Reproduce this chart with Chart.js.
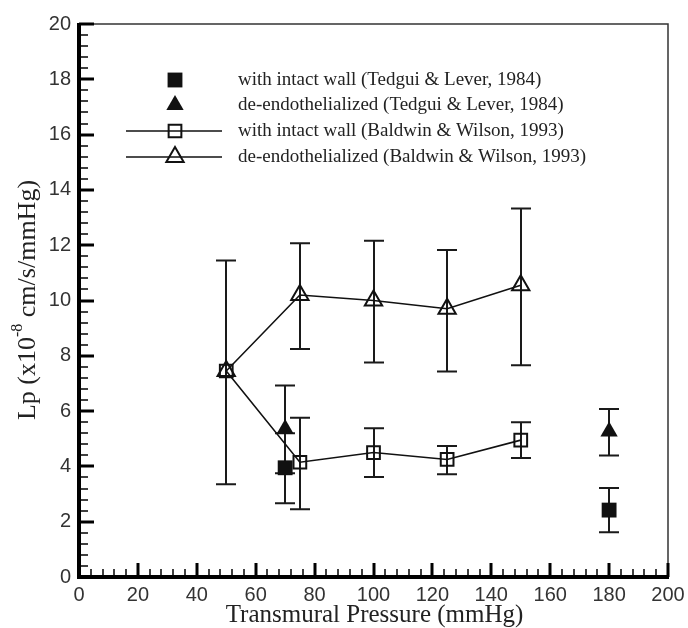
<!DOCTYPE html>
<html>
<head>
<meta charset="utf-8">
<script src="https://cdn.jsdelivr.net/npm/chart.js@4.4.1/dist/chart.umd.min.js"></script>
<style>
  html, body { margin: 0; padding: 0; background: #fff; }
  #wrap { width: 688px; height: 628px; }
</style>
</head>
<body>
<div id="wrap"><canvas id="myChart" width="688" height="628"></canvas></div>
<script>
// data
let pressureTL = [70, 180];
let intactTL = [3.95, 2.42];
let intactTLLow = [2.67, 1.62];
let intactTLHigh = [5.2, 3.22];
let deendoTL = [5.35, 5.26];
let deendoTLLow = [3.75, 4.39];
let deendoTLHigh = [6.93, 6.08];

let pressureBW = [50, 75, 100, 125, 150];
let intactBW = [7.45, 4.15, 4.5, 4.25, 4.95];
let intactBWLow = [null, 2.45, 3.62, 3.72, 4.3];
let intactBWHigh = [null, 5.76, 5.38, 4.74, 5.6];
let deendoBW = [7.45, 10.2, 10.0, 9.7, 10.55];
let deendoBWLow = [3.35, 8.25, 7.76, 7.43, 7.66];
let deendoBWHigh = [11.45, 12.07, 12.16, 11.83, 13.33];

let legendLabels = [
  'with intact wall (Tedgui & Lever, 1984)',
  'de-endothelialized (Tedgui & Lever, 1984)',
  'with intact wall (Baldwin & Wilson, 1993)',
  'de-endothelialized (Baldwin & Wilson, 1993)'
];
let xTicks = [0, 20, 40, 60, 80, 100, 120, 140, 160, 180, 200];
let yTicks = [0, 2, 4, 6, 8, 10, 12, 14, 16, 18, 20];

function points(xs, ys) {
  return xs.map((x, i) => ({ x: x, y: ys[i] }));
}

let ink = '#111';

let data = {
  datasets: [{
    label: legendLabels[0],
    data: points(pressureTL, intactTL),
    errLow: intactTLLow, errHigh: intactTLHigh,
    pointStyle: 'rect', pointRadius: 10.5,
    pointBackgroundColor: ink, pointBorderColor: ink, pointBorderWidth: 0,
    showLine: false
  }, {
    label: legendLabels[1],
    data: points(pressureTL, deendoTL),
    errLow: deendoTLLow, errHigh: deendoTLHigh,
    pointStyle: 'triangle', pointRadius: 10,
    pointBackgroundColor: ink, pointBorderColor: ink, pointBorderWidth: 0,
    showLine: false
  }, {
    label: legendLabels[2],
    data: points(pressureBW, intactBW),
    errLow: intactBWLow, errHigh: intactBWHigh,
    pointStyle: 'rect', pointRadius: 9,
    pointBackgroundColor: 'rgba(0,0,0,0)', pointBorderColor: ink, pointBorderWidth: 2,
    showLine: true, borderColor: ink, borderWidth: 1.6
  }, {
    label: legendLabels[3],
    data: points(pressureBW, deendoBW),
    errLow: deendoBWLow, errHigh: deendoBWHigh,
    pointStyle: 'triangle', pointRadius: 10,
    pointBackgroundColor: 'rgba(0,0,0,0)', pointBorderColor: ink, pointBorderWidth: 2,
    showLine: true, borderColor: ink, borderWidth: 1.6
  }]
};

// error bars under the markers
let errorBars = {
  id: 'errorBars',
  beforeDatasetsDraw(chart) {
    let ctx = chart.ctx;
    let xs = chart.scales.x, ys = chart.scales.y;
    ctx.save();
    ctx.strokeStyle = '#1a1a1a';
    ctx.lineWidth = 2;
    chart.data.datasets.forEach(ds => {
      ds.data.forEach((p, i) => {
        let lo = ds.errLow[i], hi = ds.errHigh[i];
        if (lo == null || hi == null) return;
        let px = Math.round(xs.getPixelForValue(p.x));
        let y1 = ys.getPixelForValue(lo), y2 = ys.getPixelForValue(hi);
        ctx.beginPath();
        ctx.moveTo(px, y1); ctx.lineTo(px, y2);
        ctx.moveTo(px - 10, y1); ctx.lineTo(px + 10, y1);
        ctx.moveTo(px - 10, y2); ctx.lineTo(px + 10, y2);
        ctx.stroke();
      });
    });
    ctx.restore();
  }
};

// frame, inward ticks, axis titles and legend
let frame = {
  id: 'frame',
  afterDraw(chart) {
    let ctx = chart.ctx;
    let a = chart.chartArea;
    let xs = chart.scales.x, ys = chart.scales.y;
    ctx.save();
    // thin top/right border
    ctx.strokeStyle = '#333';
    ctx.lineWidth = 1.5;
    ctx.beginPath();
    ctx.moveTo(a.left, a.top); ctx.lineTo(a.right, a.top); ctx.lineTo(a.right, a.bottom);
    ctx.stroke();
    // ticks
    ctx.strokeStyle = '#000';
    for (let v = 0; v <= 200; v += 4) {
      let px = Math.round(xs.getPixelForValue(v));
      let major = v % 20 == 0;
      ctx.lineWidth = major ? 3 : 1.5;
      ctx.beginPath();
      ctx.moveTo(px, a.bottom); ctx.lineTo(px, a.bottom - (major ? 14 : 8));
      ctx.stroke();
    }
    for (let k = 0; k <= 50; k++) {
      let v = k * 0.4;
      let py = Math.round(ys.getPixelForValue(v));
      let major = k % 5 == 0;
      ctx.lineWidth = major ? 3 : 1.5;
      ctx.beginPath();
      ctx.moveTo(a.left, py); ctx.lineTo(a.left + (major ? 15 : 9), py);
      ctx.stroke();
    }
    // thick left/bottom axes
    ctx.lineWidth = 4;
    ctx.beginPath();
    ctx.moveTo(a.left, a.top - 1); ctx.lineTo(a.left, a.bottom); ctx.lineTo(a.right + 1, a.bottom);
    ctx.stroke();

    // axis titles
    ctx.fillStyle = '#222';
    ctx.font = '25px "Liberation Serif", serif';
    ctx.textAlign = 'center';
    ctx.textBaseline = 'middle';
    ctx.fillText('Transmural Pressure (mmHg)', (a.left + a.right) / 2 + 1, 615);

    ctx.save();
    ctx.translate(28, 300);
    ctx.rotate(-Math.PI / 2);
    let p1 = 'Lp (x10', sup = '-8', p2 = ' cm/s/mmHg)';
    ctx.font = '26px "Liberation Serif", serif';
    let w1 = ctx.measureText(p1).width, w3 = ctx.measureText(p2).width;
    ctx.font = '16px "Liberation Serif", serif';
    let w2 = ctx.measureText(sup).width;
    let x0 = -(w1 + w2 + w3) / 2;
    ctx.textAlign = 'left';
    ctx.font = '26px "Liberation Serif", serif';
    ctx.fillText(p1, x0, 0);
    ctx.fillText(p2, x0 + w1 + w2, 0);
    ctx.font = '16px "Liberation Serif", serif';
    ctx.fillText(sup, x0 + w1, -10);
    ctx.restore();

    // legend
    let rowY = [80, 105, 131, 157];
    ctx.font = '19px "Liberation Serif", serif';
    ctx.textAlign = 'left';
    ctx.textBaseline = 'middle';
    chart.data.datasets.forEach((ds, i) => {
      let y = rowY[i];
      if (ds.showLine) {
        ctx.strokeStyle = ink;
        ctx.lineWidth = 1.6;
        ctx.beginPath();
        ctx.moveTo(126, y); ctx.lineTo(222, y);
        ctx.stroke();
      }
      ctx.fillStyle = ds.pointBackgroundColor;
      ctx.strokeStyle = ds.pointBorderColor;
      ctx.lineWidth = ds.pointBorderWidth;
      Chart.helpers.drawPoint(ctx, {
        pointStyle: ds.pointStyle, radius: ds.pointRadius, rotation: 0,
        borderWidth: ds.pointBorderWidth
      }, 175, y);
      ctx.fillStyle = '#222';
      ctx.fillText(ds.label, 238, y);
    });
    ctx.restore();
  }
};

function noPad(scale) {
  scale.paddingTop = 0; scale.paddingBottom = 0;
  scale.paddingLeft = 0; scale.paddingRight = 0;
}

let ctx = document.getElementById('myChart').getContext('2d');

let myChart = new Chart(ctx, {
  type: 'scatter',
  data: data,
  options: {
    responsive: false,
    animation: false,
    clip: false,
    layout: { padding: { left: 0, top: 24, right: 20, bottom: 0 } },
    plugins: { legend: { display: false }, tooltip: { enabled: false } },
    scales: {
      x: {
        type: 'linear', min: 0, max: 200,
        afterBuildTicks: s => { s.ticks = xTicks.map(v => ({ value: v })); },
        afterFit: s => { s.height = 51; noPad(s); },
        grid: { display: false, drawTicks: false },
        border: { display: false },
        ticks: { padding: 6, color: '#333', font: { family: '"Liberation Sans", Arial', size: 20 }, maxRotation: 0 }
      },
      y: {
        type: 'linear', min: 0, max: 20,
        afterBuildTicks: s => { s.ticks = yTicks.map(v => ({ value: v })); },
        afterFit: s => { s.width = 79; noPad(s); },
        grid: { display: false, drawTicks: false },
        border: { display: false },
        ticks: { padding: 8, color: '#333', font: { family: '"Liberation Sans", Arial', size: 20 } }
      }
    }
  },
  plugins: [errorBars, frame]
});
</script>
</body>
</html>
